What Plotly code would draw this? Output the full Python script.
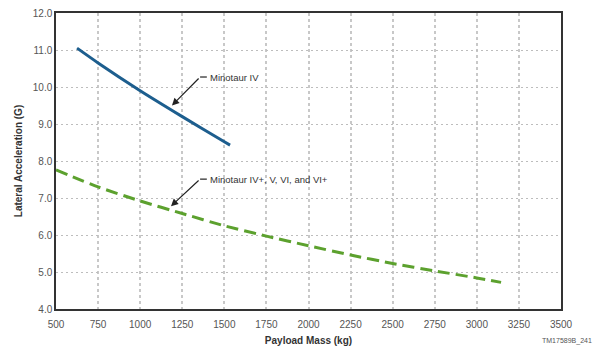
import plotly.graph_objects as go

# Data
m4_mass = [625, 750, 1000, 1250, 1500, 1534]
m4_g = [11.05, 10.65, 9.9, 9.2, 8.52, 8.43]

mplus_mass = [500, 750, 1000, 1250, 1500, 1750, 2000, 2250, 2500, 2750, 3000, 3144]
mplus_g = [7.76, 7.30, 6.92, 6.58, 6.25, 5.97, 5.71, 5.46, 5.23, 5.03, 4.84, 4.72]

x_ticks = [500, 750, 1000, 1250, 1500, 1750, 2000, 2250, 2500, 2750, 3000, 3250, 3500]
y_ticks = [4.0, 5.0, 6.0, 7.0, 8.0, 9.0, 10.0, 11.0, 12.0]

FONT = "Liberation Sans Narrow, Liberation Sans, Arial"

fig = go.Figure()
fig.add_trace(go.Scatter(x=m4_mass, y=m4_g, mode="lines",
                         line=dict(color="#1d5e8e", width=3, shape="spline", smoothing=0.6),
                         showlegend=False, hoverinfo="skip"))
fig.add_trace(go.Scatter(x=mplus_mass, y=mplus_g, mode="lines",
                         line=dict(color="#5ca12e", width=3, dash="12px,6px", shape="spline", smoothing=0.6),
                         showlegend=False, hoverinfo="skip"))

axis_common = dict(showline=True, linecolor="#333333", linewidth=1.5, mirror=True,
                   gridwidth=1, automargin=False,
                   zeroline=False, tickfont=dict(family=FONT, size=10, color="#555555"))

fig.update_xaxes(range=[500, 3500], tickvals=x_ticks, ticktext=[str(v) for v in x_ticks],
                 ticks="outside", ticklen=5, tickcolor="rgba(0,0,0,0)",
                 showgrid=True, gridcolor="#c8c8c8", gridwidth=1.5, griddash="3px,3px",
                 title=dict(text="<b>Payload Mass (kg)</b>", font=dict(family=FONT, size=10, color="#333333"), standoff=8),
                 **{k: v for k, v in axis_common.items() if k != "gridwidth"})
fig.update_yaxes(range=[4.0, 12.0], tickvals=y_ticks, ticktext=[f"{v:.1f}" for v in y_ticks],
                 ticks="", showgrid=True, gridcolor="#bdbdbd", griddash="2px,3px",
                 title=dict(text="<b>Lateral Acceleration (G)</b>", font=dict(family=FONT, size=10, color="#333333"), standoff=8),
                 **axis_common)

# annotations: arrows
for head, tail, label in [((1189, 9.50), (1356, 10.27), "Minotaur IV"),
                          ((1183, 6.78), (1356, 7.51), "Minotaur IV+, V, VI, and VI+")]:
    fig.add_annotation(x=head[0], y=head[1], ax=tail[0], ay=tail[1], axref="x", ayref="y",
                       xref="x", yref="y", text="", showarrow=True, arrowhead=2, arrowsize=1.2,
                       arrowwidth=1.2, arrowcolor="#222222")
    fig.add_shape(type="line", x0=tail[0], y0=tail[1], x1=tail[0] + 40, y1=tail[1],
                  xref="x", yref="y", line=dict(color="#222222", width=1.2))
    fig.add_annotation(x=tail[0] + 45, y=tail[1], xref="x", yref="y", text=label, showarrow=False,
                       xanchor="left", yanchor="middle", font=dict(family=FONT, size=9.5, color="#333333"))

fig.add_annotation(x=1.0, y=0.0, xref="paper", yref="paper", xanchor="right", yanchor="top",
                   xshift=33, yshift=-26, text="TM17589B_241", showarrow=False,
                   font=dict(family=FONT, size=7, color="#555555"))

fig.update_layout(width=596, height=351, margin=dict(l=56, r=35, t=13, b=42),
                  plot_bgcolor="white", paper_bgcolor="white")

fig.write_html("out.html")
